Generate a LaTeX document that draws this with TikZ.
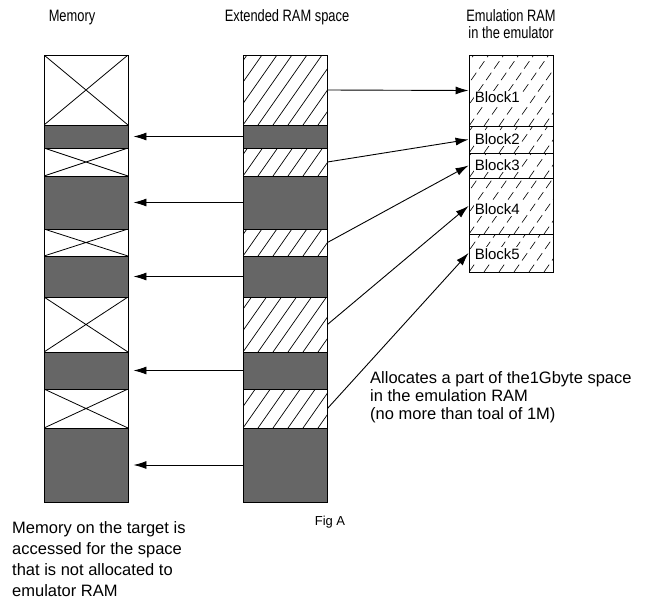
\documentclass[tikz,border=0pt]{standalone}
\usepackage{fontspec}
\setmainfont{Liberation Sans}
\newfontfamily\narrowfont[FakeStretch=0.78]{Liberation Sans}
\usetikzlibrary{arrows.meta,calc}
\definecolor{darkfill}{HTML}{666666}
\tikzset{
 basebox/.style={draw=black, line width=0.9pt, inner sep=0pt, minimum width=84pt, anchor=center},
 xbox/.style={basebox, fill=white, path picture={\draw[line width=0.8pt] (path picture bounding box.north west) -- (path picture bounding box.south east) (path picture bounding box.south west) -- (path picture bounding box.north east);}},
 darkbox/.style={basebox, fill=darkfill},
 hatchbox/.style={basebox, fill=white, path picture={\foreach \k in {-8,...,7} {\draw[line width=0.7pt] ($(path picture bounding box.south west)+(\k*15pt,0pt)$) -- ++(84pt,120pt);}}},
 emubox/.style={basebox, fill=white, path picture={\foreach \k in {-8,...,7} {\draw[line width=0.6pt, dash pattern=on 9pt off 5pt] ($(path picture bounding box.south west)+(\k*15pt,0pt)$) -- ++(84pt,120pt);}}},
 arr/.style={line width=0.9pt, -{Latex[length=13pt,width=8pt]}},
 txt/.style={font=\fontsize{16.5}{19}\selectfont, inner sep=0pt},
 hdr/.style={font=\narrowfont\fontsize{16.5}{19}\selectfont, inner sep=0pt, anchor=base},
 blk/.style={font=\fontsize{15}{17}\selectfont, inner sep=1pt, fill=white, anchor=west},
 figtxt/.style={font=\fontsize{13}{15}\selectfont, inner sep=0pt}
}
\begin{document}
\begin{tikzpicture}[x=1pt,y=-1pt]
\useasboundingbox (0,0) rectangle (652,608);
% Memory column
\node[xbox, minimum height=70pt] (m1) at (86,90) {};
\node[darkbox, minimum height=23pt] (m2) at (86,136.5) {};
\node[xbox, minimum height=28pt] (m3) at (86,162) {};
\node[darkbox, minimum height=53pt] (m4) at (86,202.5) {};
\node[xbox, minimum height=27pt] (m5) at (86,242.5) {};
\node[darkbox, minimum height=41pt] (m6) at (86,276.5) {};
\node[xbox, minimum height=55pt] (m7) at (86,324.5) {};
\node[darkbox, minimum height=37pt] (m8) at (86,370.5) {};
\node[xbox, minimum height=39pt] (m9) at (86,408.5) {};
\node[darkbox, minimum height=74pt] (m10) at (86,465) {};
% Extended RAM column
\node[hatchbox, minimum height=70pt] (x1) at (285,90) {};
\node[darkbox, minimum height=23pt] (x2) at (285,136.5) {};
\node[hatchbox, minimum height=28pt] (x3) at (285,162) {};
\node[darkbox, minimum height=53pt] (x4) at (285,202.5) {};
\node[hatchbox, minimum height=27pt] (x5) at (285,242.5) {};
\node[darkbox, minimum height=41pt] (x6) at (285,276.5) {};
\node[hatchbox, minimum height=55pt] (x7) at (285,324.5) {};
\node[darkbox, minimum height=37pt] (x8) at (285,370.5) {};
\node[hatchbox, minimum height=39pt] (x9) at (285,408.5) {};
\node[darkbox, minimum height=74pt] (x10) at (285,465) {};
% Emulation RAM
\node[emubox, minimum height=71pt] (b1) at (511,90.5) {};
\node[emubox, minimum height=27pt] (b2) at (511,139.5) {};
\node[emubox, minimum height=25pt] (b3) at (511,165.5) {};
\node[emubox, minimum height=56pt] (b4) at (511,206) {};
\node[emubox, minimum height=38pt] (b5) at (511,253) {};
\node[blk] (t1) at ([xshift=5pt,yshift=-7pt]b1.west) {Block1};
\node[blk] (t2) at ([xshift=5pt]b2.west) {Block2};
\node[blk] (t3) at ([xshift=5pt]b3.west) {Block3};
\node[blk] (t4) at ([xshift=5pt,yshift=-3pt]b4.west) {Block4};
\node[blk] (t5) at ([xshift=5pt,yshift=-1pt]b5.west) {Block5};
% arrows to memory
\draw[arr, shorten >=5pt] (x2.west) -- (m2.east);
\draw[arr, shorten >=5pt] (x4.west) -- (m4.east);
\draw[arr, shorten >=5pt] (x6.west) -- (m6.east);
\draw[arr, shorten >=5pt] (x8.west) -- (m8.east);
\draw[arr, shorten >=5pt] (x10.west) -- (m10.east);
% arrows to emulation blocks
\draw[arr] (x1.east) -- (b1.west);
\draw[arr] (x3.east) -- (b2.west);
\draw[arr] (x5.east) -- (b3.west);
\draw[arr] (x7.east) -- (b4.west);
\draw[arr] (x9.east) -- (b5.west);
% headers
\node[hdr] (h1) at (72,21) {Memory};
\node[hdr] (h2) at (287,21) {Extended RAM space};
\node[hdr] (h3) at (511,21) {Emulation RAM};
\node[hdr] (h4) at (511,38) {in the emulator};
% notes
\node[txt, anchor=base west] (a1) at (370,383) {Allocates a part of the1Gbyte space};
\node[txt, anchor=base west] (a2) at (370,401) {in the emulation RAM};
\node[txt, anchor=base west] (a3) at (370,419) {(no more than toal of 1M)};
\node[txt, anchor=base west] (n1) at (12,533) {Memory on the target is};
\node[txt, anchor=base west] (n2) at (12,554) {accessed for the space};
\node[txt, anchor=base west] (n3) at (12,575) {that is not allocated to};
\node[txt, anchor=base west] (n4) at (12,596) {emulator RAM};
\node[figtxt, anchor=base] (fig) at (330,525) {Fig A};
\end{tikzpicture}
\end{document}
